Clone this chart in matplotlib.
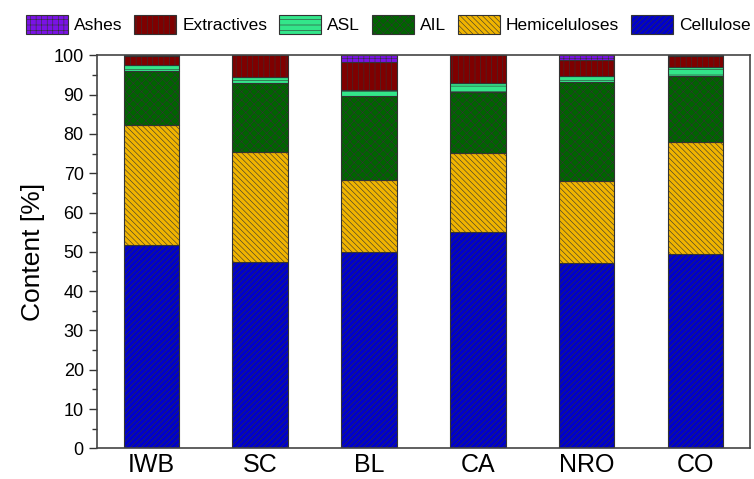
import matplotlib
matplotlib.use("Agg")
import matplotlib.pyplot as plt
from matplotlib.ticker import MultipleLocator
import numpy as np

plt.rcParams['font.family'] = ['Liberation Sans', 'DejaVu Sans']
plt.rcParams['hatch.linewidth'] = 0.4

samples = ['IWB', 'SC', 'BL', 'CA', 'NRO', 'CO']

# composition in %, bottom to top of each stack
cellulose = [51.8, 47.5, 50.0, 55.1, 47.2, 49.5]
hemicellulose = [30.5, 28.0, 18.3, 20.1, 20.9, 28.5]
ail = [13.7, 17.4, 21.4, 15.5, 25.2, 16.7]
asl = [1.5, 1.7, 1.5, 2.2, 1.4, 2.4]
extractives = [2.3, 5.4, 7.2, 7.1, 4.1, 2.6]
ashes = [0.2, 0.0, 1.6, 0.0, 1.2, 0.3]

series = [
    ('Cellulose', cellulose, '#0000cc', '//////'),
    ('Hemiceluloses', hemicellulose, '#f0b400', '\\\\\\\\\\\\'),
    ('AIL', ail, '#006400', 'xxxx'),
    ('ASL', asl, '#33e68a', '---'),
    ('Extractives', extractives, '#7f0000', '|||'),
    ('Ashes', ashes, '#7a12e6', '+++'),
]

fig = plt.figure(figsize=(7.54, 4.79), dpi=100)
ax = fig.add_axes([0.1286, 0.064, 0.866, 0.8206])

x = np.arange(1, len(samples) + 1)
bottom = np.zeros(len(samples))
bars = []
for name, vals, color, hatch in series:
    b = ax.bar(x, vals, width=0.51, bottom=bottom, color=color,
               edgecolor='#333333', hatch=hatch, linewidth=0.8, label=name)
    bars.append(b)
    bottom += np.array(vals)

ax.set_xlim(0.5, 6.5)
ax.set_ylim(0, 100)
ax.set_xticks(x)
ax.set_xticklabels(samples, fontsize=18)
ax.tick_params(axis='x', length=0, pad=3)
ax.yaxis.set_major_locator(MultipleLocator(10))
ax.yaxis.set_minor_locator(MultipleLocator(5))
ax.tick_params(axis='y', which='major', direction='out', length=6, width=1, labelsize=13, colors='#333333')
ax.tick_params(axis='y', which='minor', direction='out', length=3.5, width=1, colors='#333333')
for lbl in ax.get_yticklabels():
    lbl.set_color('black')
for s in ax.spines.values():
    s.set_color('#444444')
    s.set_linewidth(1.2)
ax.set_ylabel('Content [%]', fontsize=19, labelpad=6)

handles = bars[::-1]
labels = [s[0] for s in series][::-1]
fig.legend(handles, labels, loc='upper center', bbox_to_anchor=(0.515, 0.99), ncol=6,
           frameon=False, fontsize=12.5, handlelength=2.4, handleheight=1.3,
           handletextpad=0.35, columnspacing=0.7, borderaxespad=0.2)

fig.savefig('out.png', dpi=100)
